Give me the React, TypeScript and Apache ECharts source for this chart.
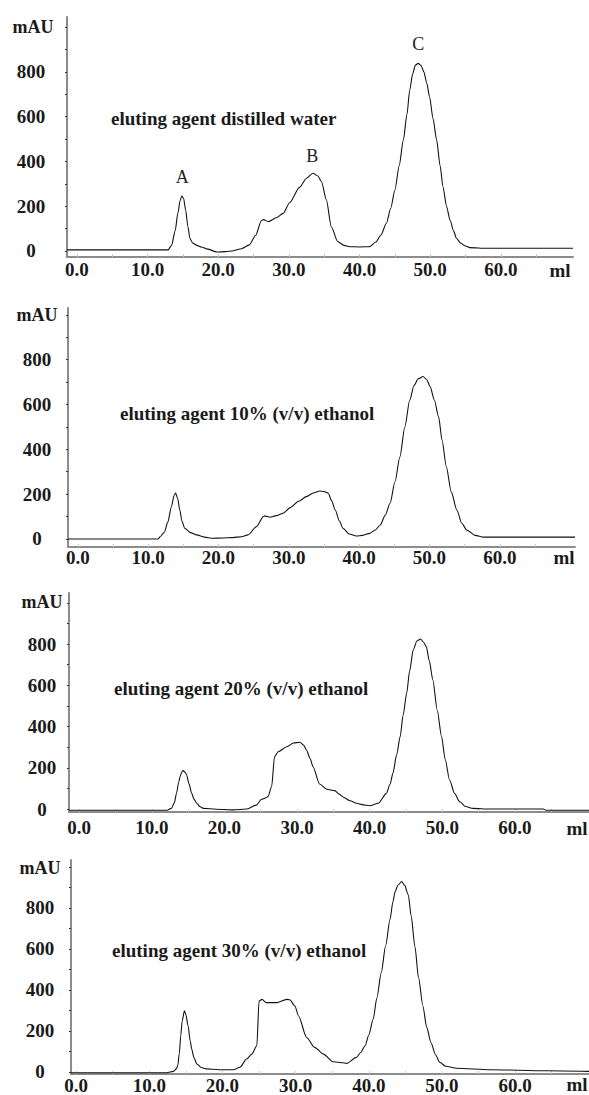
import React, { useEffect, useRef } from "react";
import * as echarts from "echarts";

// Chromatograms: [elution volume (ml), absorbance (mAU)]
const waterCurve: [number, number][] = [
  [-1.4, 5], [5, 5], [10, 5], [12.9, 5], [13.4, 25], [13.9, 90], [14.3, 170], [14.6, 225], [14.85, 245], [15.1, 235],
  [15.4, 180], [15.7, 110], [16.0, 55], [16.4, 35], [17.0, 25], [17.6, 18], [18.5, 8], [19.8, -5], [21, -3], [22, 0],
  [23.3, 10], [24.4, 27], [25.3, 70], [26.1, 135], [26.4, 140], [27.1, 131], [28.2, 148], [29.2, 168], [30.1, 215],
  [31.5, 284], [32.5, 325], [33.4, 347], [34.1, 335], [34.6, 310], [35.3, 228], [36.0, 108], [36.9, 42], [37.8, 25],
  [38.6, 19], [40, 18], [41.4, 19], [42.3, 40], [43.0, 70], [43.8, 124], [44.4, 190], [45.0, 272], [45.6, 380],
  [46.2, 496], [46.7, 610], [47.1, 719], [47.5, 790], [47.9, 830], [48.3, 838], [48.7, 828], [49.1, 800], [49.5, 750],
  [49.9, 689], [50.4, 590], [50.9, 496], [51.4, 380], [51.8, 287], [52.3, 200], [52.8, 138], [53.3, 90], [53.7, 57],
  [54.3, 35], [55.0, 22], [55.6, 15], [58, 12], [62, 12], [66, 12], [70.2, 12],
];
const ethanol10Curve: [number, number][] = [
  [-1.4, 0], [5, 0], [10, 0], [11.4, 0], [11.7, 10], [12.3, 30], [12.8, 75], [13.3, 144], [13.7, 195], [13.9, 205],
  [14.2, 180], [14.5, 129], [14.8, 80], [15.2, 48], [16.0, 28], [16.9, 18], [18, 8], [19.2, 3], [20.5, 4], [22, 6],
  [23.3, 10], [24.2, 18], [25.4, 55], [26.4, 100], [26.6, 103], [27.3, 97], [28.2, 104], [29.2, 115], [30.2, 140],
  [31.4, 168], [32.5, 189], [33.5, 205], [34.4, 214], [35.0, 212], [35.6, 204], [36.1, 170], [36.6, 129], [37.2, 80],
  [37.7, 48], [38.6, 22], [39.6, 13], [40.5, 16], [41.5, 25], [42.3, 40], [43.0, 62], [43.7, 105], [44.4, 159],
  [45.1, 255], [45.8, 367], [46.5, 500], [47.2, 620], [47.8, 685], [48.4, 715], [49.1, 725], [49.6, 712], [50.1, 680],
  [50.7, 620], [51.3, 546], [51.8, 440], [52.4, 323], [53.1, 210], [53.9, 129], [54.6, 70], [55.3, 40], [56.5, 16],
  [57.7, 8], [62, 8], [66, 8], [70.7, 8],
];
const ethanol20Curve: [number, number][] = [
  [-1.4, -6], [5, -6], [10, -6], [12.1, -6], [12.7, 3], [13.1, 30], [13.4, 76], [13.7, 130], [13.9, 157], [14.1, 178],
  [14.3, 186], [14.6, 178], [14.8, 165], [15.1, 125], [15.5, 76], [15.8, 48], [16.2, 28], [16.6, 12], [17.1, 3],
  [18.9, -1], [21.2, -4], [23.1, 0], [24.4, 19], [25.1, 47], [25.6, 53], [26.0, 60], [26.5, 108], [26.9, 254],
  [27.4, 278], [28.6, 302], [29.5, 320], [30.4, 324], [30.9, 310], [31.3, 286], [31.8, 245], [32.2, 205], [33.1, 121],
  [34.1, 96], [35.2, 89], [35.8, 72], [36.4, 57], [37.3, 40], [38.2, 28], [39.1, 20], [40.0, 16], [41.2, 28],
  [42.3, 76], [42.8, 120], [43.2, 173], [43.7, 260], [44.2, 351], [44.6, 455], [45.1, 562], [45.5, 670], [46.0, 772],
  [46.5, 815], [47.0, 825], [47.4, 810], [47.8, 788], [48.2, 720], [48.7, 626], [49.3, 480], [49.9, 351], [50.4, 240],
  [51.0, 141], [51.7, 75], [52.4, 35], [53.2, 12], [54.2, 3], [56.5, 0], [60, 0], [63.9, 0], [64.3, -6], [70.2, -6],
];
const ethanol30Curve: [number, number][] = [
  [-0.7, -4], [5, -4], [10, -4], [12.4, -4], [13.3, 3], [13.7, 15], [13.9, 31], [14.1, 90], [14.3, 176], [14.5, 250],
  [14.8, 298], [15.0, 280], [15.3, 225], [15.6, 150], [15.8, 112], [16.1, 70], [16.5, 39], [17.1, 22], [17.8, 15],
  [19.5, 11], [21.5, 11], [22.4, 23], [23.3, 63], [24.0, 87], [24.7, 128], [25.0, 346], [25.4, 354], [26.0, 338],
  [27.4, 338], [28.8, 354], [29.2, 352], [29.9, 322], [30.4, 273], [31.5, 168], [32.6, 120], [33.8, 87], [35.1, 50],
  [37.0, 42], [38.3, 71], [38.9, 95], [39.5, 128], [40.0, 180], [40.6, 257], [41.1, 360], [41.7, 484], [42.3, 615],
  [42.9, 743], [43.3, 830], [43.6, 880], [44.0, 912], [44.5, 929], [44.9, 910], [45.4, 864], [45.8, 760], [46.3, 613],
  [46.8, 460], [47.4, 322], [47.9, 220], [48.5, 144], [49.1, 85], [49.7, 47], [50.5, 28], [52.0, 18], [56.6, 11],
  [64.3, 6], [70.1, 3],
];

const panelTitles = [
  "eluting agent distilled water",
  "eluting agent 10% (v/v) ethanol",
  "eluting agent 20% (v/v) ethanol",
  "eluting agent 30% (v/v) ethanol",
];
const xTickValues = [0, 5, 10, 15, 20, 25, 30, 35, 40, 45, 50, 55, 60, 65];
const xLabelValues = [0, 10, 20, 30, 40, 50, 60];
const yTickValues = [0, 100, 200, 300, 400, 500, 600, 700, 800, 900, 1000];
const yLabelValues = [0, 200, 400, 600, 800];
const peakNames = ["A", "B", "C"];
const peakCoords: [number, number][] = [[14.9, 330], [33.3, 425], [48.3, 925]];

const FONT = "'Liberation Serif', 'Times New Roman', serif";

const panels = [
  { curve: waterCurve, left: 67, top: 17, width: 506, height: 240, xMin: -1.4, xMax: 70.2, yMin: -27, yMax: 1045, yMargin: 36, xMargin: 3, mau: [33, 27], ml: [560, 270], title: [111, 118] },
  { curve: ethanol10Curve, left: 68, top: 308, width: 507, height: 239, xMin: -1.4, xMax: 70.7, yMin: -36, yMax: 1031, yMargin: 31, xMargin: 1, mau: [37, 315], ml: [564, 557], title: [120, 413] },
  { curve: ethanol20Curve, left: 69, top: 593, width: 520, height: 219, xMin: -1.4, xMax: 70.2, yMin: -14.5, yMax: 1048, yMargin: 27, xMargin: 6, mau: [42, 602], ml: [577, 828], title: [114, 688] },
  { curve: ethanol30Curve, left: 71, top: 860, width: 518, height: 215, xMin: -0.7, xMax: 70.1, yMin: -10, yMax: 1034, yMargin: 31, xMargin: 2, mau: [40, 868], ml: [577, 1084], title: [112, 950] },
];

export default function App() {
  const ref = useRef<HTMLDivElement>(null);
  useEffect(() => {
    document.body.style.margin = "0";
    if (!ref.current) return;
    const chart = echarts.init(ref.current, undefined, { renderer: "svg" });
    const labelStyle = { color: "#1a1a1a", fontFamily: FONT, fontWeight: "bold" as const, fontSize: 19 };

    const grid = panels.map((p) => ({ left: p.left, top: p.top, width: p.width, height: p.height, containLabel: false }));
    const xAxis = panels.map((p, i) => ({
      type: "value" as const,
      gridIndex: i,
      min: p.xMin,
      max: p.xMax,
      splitLine: { show: false },
      axisLine: { show: true, onZero: false, lineStyle: { color: "#8c8c8c", width: 2 } },
      axisTick: { show: true, inside: true, length: 3, customValues: xTickValues, lineStyle: { color: "#c8c8c8", width: 1 } },
      axisLabel: { ...labelStyle, margin: p.xMargin, customValues: xLabelValues, formatter: (v: number) => v.toFixed(1) },
    }));
    const yAxis = panels.map((p, i) => ({
      type: "value" as const,
      gridIndex: i,
      min: p.yMin,
      max: p.yMax,
      splitLine: { show: false },
      axisLine: { show: true, onZero: false, lineStyle: { color: "#8c8c8c", width: 2 } },
      axisTick: { show: true, inside: false, length: 2, customValues: yTickValues, lineStyle: { color: "#333", width: 1 } },
      axisLabel: { ...labelStyle, align: "center" as const, margin: p.yMargin, customValues: yLabelValues },
    }));
    const series = panels.map((p, i) => ({
      type: "line" as const,
      xAxisIndex: i,
      yAxisIndex: i,
      data: p.curve,
      showSymbol: false,
      symbol: "none",
      smooth: 0.25,
      smoothMonotone: "x" as const,
      lineStyle: { color: "#111", width: 1.1 },
      markPoint:
        i === 0
          ? {
              symbol: "circle",
              symbolSize: 1,
              itemStyle: { color: "rgba(0,0,0,0)" },
              label: { show: true, position: "inside" as const, color: "#222", fontFamily: FONT, fontSize: 18, formatter: (d: any) => d.name },
              data: peakNames.map((n, k) => ({ name: n, coord: peakCoords[k] })),
            }
          : undefined,
    }));

    const graphic: any[] = [];
    panels.forEach((p, i) => {
      graphic.push({
        type: "text",
        x: p.mau[0],
        y: p.mau[1],
        style: { text: "mAU", fill: "#1a1a1a", font: `bold 18px ${FONT}`, textAlign: "center", textVerticalAlign: "middle" },
      });
      graphic.push({
        type: "text",
        x: p.ml[0],
        y: p.ml[1],
        style: { text: "ml", fill: "#1a1a1a", font: `bold 19px ${FONT}`, textAlign: "center", textVerticalAlign: "middle" },
      });
      graphic.push({
        type: "text",
        x: p.title[0],
        y: p.title[1],
        style: { text: panelTitles[i], fill: "#1a1a1a", font: `bold 19px ${FONT}`, textAlign: "left", textVerticalAlign: "middle" },
      });
    });

    chart.setOption({
      animation: false,
      backgroundColor: "#ffffff",
      grid,
      xAxis,
      yAxis,
      series,
      graphic,
    });
    return () => chart.dispose();
  }, []);
  return <div ref={ref} style={{ width: 589, height: 1095 }} />;
}
